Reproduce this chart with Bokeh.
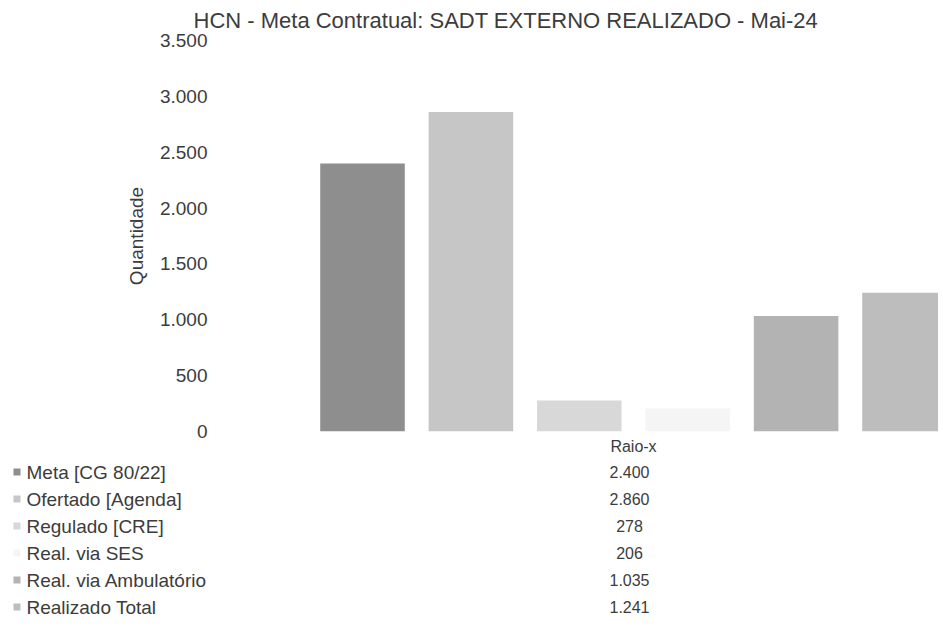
from bokeh.plotting import figure
from bokeh.models import Range1d, FixedTicker, FactorRange, ColumnDataSource
from bokeh.embed import file_html
from bokeh.resources import INLINE
from bokeh.core.properties import value

# ---------------- data ----------------
title_text = "HCN - Meta Contratual: SADT EXTERNO REALIZADO - Mai-24"
y_axis_title = "Quantidade"
category = "Raio-x"
series = ["Meta [CG 80/22]", "Ofertado [Agenda]", "Regulado [CRE]",
          "Real. via SES", "Real. via Ambulatório", "Realizado Total"]
values = [2400, 2860, 278, 206, 1035, 1241]
colors = ["#8e8e8e", "#c6c6c6", "#d8d8d8", "#f5f5f5", "#b3b3b3", "#bdbdbd"]
y_ticks = [0, 500, 1000, 1500, 2000, 2500, 3000, 3500]
y_tick_labels = ["0", "500", "1.000", "1.500", "2.000", "2.500", "3.000", "3.500"]

# ---------------- layout constants ----------------
FONT = "Liberation Sans"
TXT = "#3c3c3c"
W = 938
FRAME_LEFT = 215      # canvas px where the plot frame starts
BAR0 = 362            # canvas px of first bar centre
STEP = 108.4          # px between bar centres
BAR_W = 0.78


def to_x(px):
    return (px - BAR0) / STEP


x_idx = list(range(len(series)))
group_center = (len(series) - 1) / 2
value_labels = [f"{v:,}".replace(",", ".") for v in values]

src = ColumnDataSource(dict(x=x_idx, top=values, color=colors))

# ---------------- chart ----------------
chart = figure(width=W, height=458,
               x_range=Range1d(to_x(FRAME_LEFT), to_x(W)),
               y_range=Range1d(0, 3500),
               output_backend="svg", toolbar_location=None,
               min_border_left=FRAME_LEFT, min_border_right=0,
               min_border_top=40, min_border_bottom=27,
               title=title_text)
chart.outline_line_color = None
chart.grid.visible = False
chart.title.text_font = FONT
chart.title.text_font_size = "22px"
chart.title.text_font_style = "normal"
chart.title.text_color = TXT
chart.title.align = "left"
chart.title.vertical_align = "top"
chart.title.offset = -22
chart.title.standoff = 12

chart.vbar(x="x", top="top", bottom=0, width=BAR_W, fill_color="color",
           line_color=None, source=src)

ya = chart.yaxis[0]
ya.ticker = FixedTicker(ticks=y_ticks)
ya.major_label_overrides = {t: l for t, l in zip(y_ticks, y_tick_labels)}
ya.axis_line_color = None
ya.major_tick_line_color = None
ya.minor_tick_line_color = None
ya.major_tick_out = 0
ya.major_tick_in = 0
ya.major_label_standoff = 8
ya.major_label_text_font = FONT
ya.major_label_text_font_size = "19px"
ya.major_label_text_color = TXT
ya.axis_label = y_axis_title
ya.axis_label_text_font = FONT
ya.axis_label_text_font_size = "19px"
ya.axis_label_text_font_style = "normal"
ya.axis_label_text_color = TXT
ya.axis_label_standoff = 10

xa = chart.xaxis[0]
xa.ticker = FixedTicker(ticks=[group_center])
xa.major_label_overrides = {group_center: category}
xa.axis_line_color = None
xa.major_tick_line_color = None
xa.minor_tick_line_color = None
xa.major_tick_out = 0
xa.major_tick_in = 0
xa.major_label_standoff = 6
xa.major_label_text_font = FONT
xa.major_label_text_font_size = "16px"
xa.major_label_text_color = TXT

# ---------------- data table ----------------
table = figure(width=W, height=27 * len(series),
               x_range=Range1d(to_x(0), to_x(W)),
               y_range=FactorRange(factors=list(reversed(series))),
               output_backend="svg", toolbar_location=None,
               min_border_left=0, min_border_right=0,
               min_border_top=0, min_border_bottom=0)
table.outline_line_color = None
table.grid.visible = False
table.axis.visible = False

tsrc = ColumnDataSource(dict(name=series, color=colors, label=value_labels,
                             vx=[group_center] * len(series),
                             mx=[to_x(16.5)] * len(series),
                             lx=[to_x(26)] * len(series)))
table.scatter(x="mx", y="name", marker="square", size=7, fill_color="color",
              line_color=None, source=tsrc)
table.text(x="lx", y="name", text="name", text_align="left",
           text_baseline="middle", text_font=value(FONT),
           text_font_size="19px", text_color=TXT, source=tsrc)
table.text(x="vx", y="name", text="label", text_align="center",
           text_baseline="middle", text_font=value(FONT), x_offset=-4,
           text_font_size="16px", text_color=TXT, source=tsrc)

open("out.html", "w").write(file_html([chart, table], INLINE))
